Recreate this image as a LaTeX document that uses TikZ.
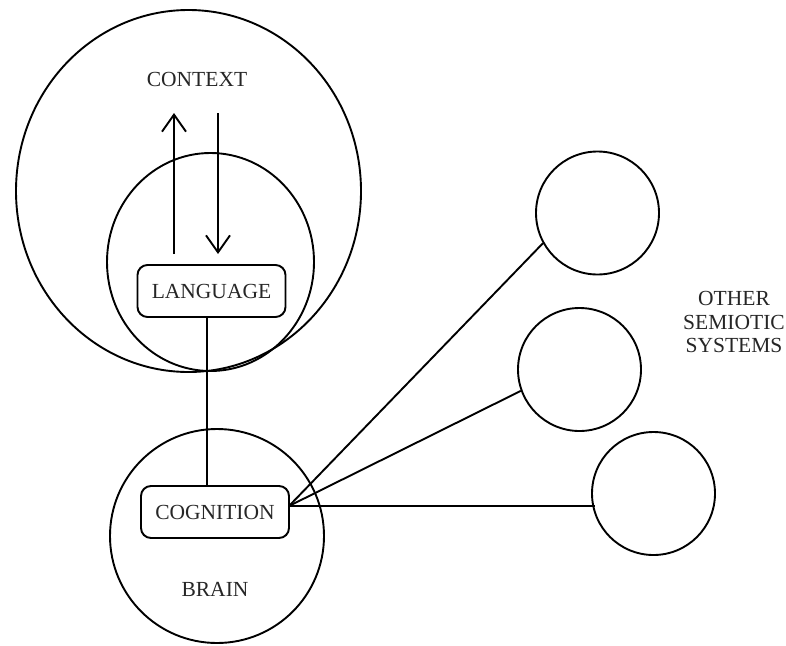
\documentclass[tikz,border=0pt]{standalone}
\usepackage{fontspec}
\setmainfont{Liberation Serif}
\usetikzlibrary{arrows.meta,shapes.geometric}
\begin{document}
\begin{tikzpicture}[x=1pt,y=-1pt,
  line width=1.9pt,
  ring/.style={draw, line width=1.9pt},
  label/.style={font=\fontsize{21.5}{24}\selectfont, text=black!85, align=center, inner sep=0pt},
  termbox/.style={draw, rounded corners=10pt, minimum width=148pt, minimum height=52pt,
                  font=\fontsize{21.5}{24}\selectfont, text=black!85, inner sep=0pt},
  flow/.style={-{Straight Barb[length=17pt,width=24pt,line width=1.9pt]}}]
  \useasboundingbox (0,0) rectangle (786,645);

  % context and language regions
  \node[ring, ellipse, minimum width=345pt, minimum height=362pt, inner sep=0pt] (context) at (188.5,191) {};
  \node[ring, ellipse, minimum width=207pt, minimum height=218pt, inner sep=0pt] (langzone) at (210.5,262) {};
  % brain
  \node[ring, circle, minimum size=214pt, inner sep=0pt] (brain) at (217,536) {};

  % other semiotic systems
  \node[ring, circle, minimum size=123pt, inner sep=0pt] (sysA) at (597.5,213) {};
  \node[ring, circle, minimum size=123pt, inner sep=0pt] (sysB) at (579.5,369.5) {};
  \node[ring, circle, minimum size=123pt, inner sep=0pt] (sysC) at (653.5,493.5) {};

  % labels
  \node[label] (ctxlabel) at (197,79) {CONTEXT};
  \node[label] (brainlabel) at (215,589) {BRAIN};
  \node[label, font=\fontsize{21.5}{23.5}\selectfont] (otherlabel) at (734,322) {OTHER\\SEMIOTIC\\SYSTEMS};

  % boxes
  \node[termbox] (lang) at (211.5,291) {LANGUAGE};
  \node[termbox] (cog) at (215,512) {COGNITION};

  % arrows between language and context
  \coordinate (upfrom) at (174,254);
  \coordinate (upto) at (174,113);
  \coordinate (downfrom) at (218,113);
  \coordinate (downto) at (218,254);
  \draw[flow] (upfrom) -- (upto);
  \draw[flow] (downfrom) -- (downto);

  % language to cognition
  \coordinate (link) at (207,400);
  \draw (lang.south -| link) -- (cog.north -| link);

  % cognition to other systems
  \coordinate (hub) at (289,506);
  \draw (hub) -- (sysA.209.6);
  \draw (hub) -- (sysB.200);
  \draw (hub) -- ([xshift=4pt]sysC.west |- hub);
\end{tikzpicture}
\end{document}
